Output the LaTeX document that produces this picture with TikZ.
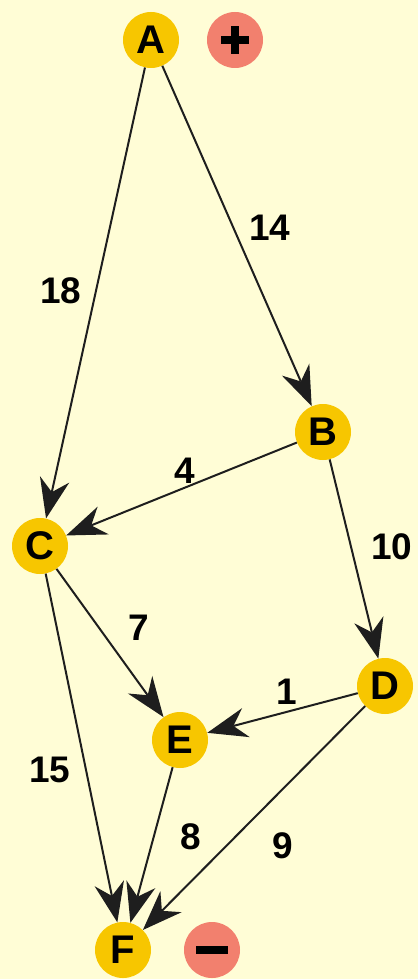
\documentclass[tikz,border=0pt]{standalone}
\usepackage{fontspec}
\setmainfont{Liberation Sans}
\usetikzlibrary{arrows.meta}
\definecolor{bg}{HTML}{FFFDD6}
\definecolor{gold}{HTML}{F7C600}
\definecolor{salmon}{HTML}{F2806E}
\definecolor{edge}{HTML}{1E1E1E}
\begin{document}
\begin{tikzpicture}[x=1pt,y=-1pt,
  vert/.style={circle,fill=gold,minimum size=56pt,inner sep=0pt,font=\fontsize{40}{40}\selectfont\bfseries},
  sign/.style={circle,fill=salmon,minimum size=56pt,inner sep=0pt},
  lbl/.style={font=\fontsize{37}{37}\selectfont\bfseries},
  arc/.style={draw=edge,line width=2pt,-{Stealth[length=40pt,width=30pt,inset=13pt,line width=0pt]}}]
\fill[bg] (0,0) rectangle (418,979);
\useasboundingbox (0,0) rectangle (418,979);
\node[vert] (A) at (151,40) {A};
\node[sign] (P) at (235,40) {};
\fill (P) ++(-14,-4) rectangle ++(28,8);
\fill (P) ++(-4,-14) rectangle ++(8,28);
\node[vert] (B) at (323,432) {B};
\node[vert] (C) at (40,546) {C};
\node[vert] (D) at (385,686) {D};
\node[vert] (E) at (180,740) {E};
\node[vert] (F) at (123,950) {F};
\node[sign] (M) at (212,950) {};
\fill (M) ++(-16,-4) rectangle ++(32,8);
\draw[arc] (A) -- (C);
\draw[arc] (A) -- (B);
\draw[arc] (B) -- (C);
\draw[arc] (B) -- (D);
\draw[arc] (C) -- (E);
\draw[arc] (C) -- (F);
\draw[arc] (D) -- (E);
\draw[arc] (D) -- (F);
\draw[arc] (E) -- (F);
\node[lbl] (l18) at (61,291) {18};
\node[lbl] (l14) at (270,228) {14};
\node[lbl] (l4) at (185,471) {4};
\node[lbl] (l10) at (392,547) {10};
\node[lbl] (l7) at (139,628) {7};
\node[lbl] (l1) at (287,692) {1};
\node[lbl] (l15) at (50,770) {15};
\node[lbl] (l8) at (191,837) {8};
\node[lbl] (l9) at (283,846) {9};
\end{tikzpicture}
\end{document}
